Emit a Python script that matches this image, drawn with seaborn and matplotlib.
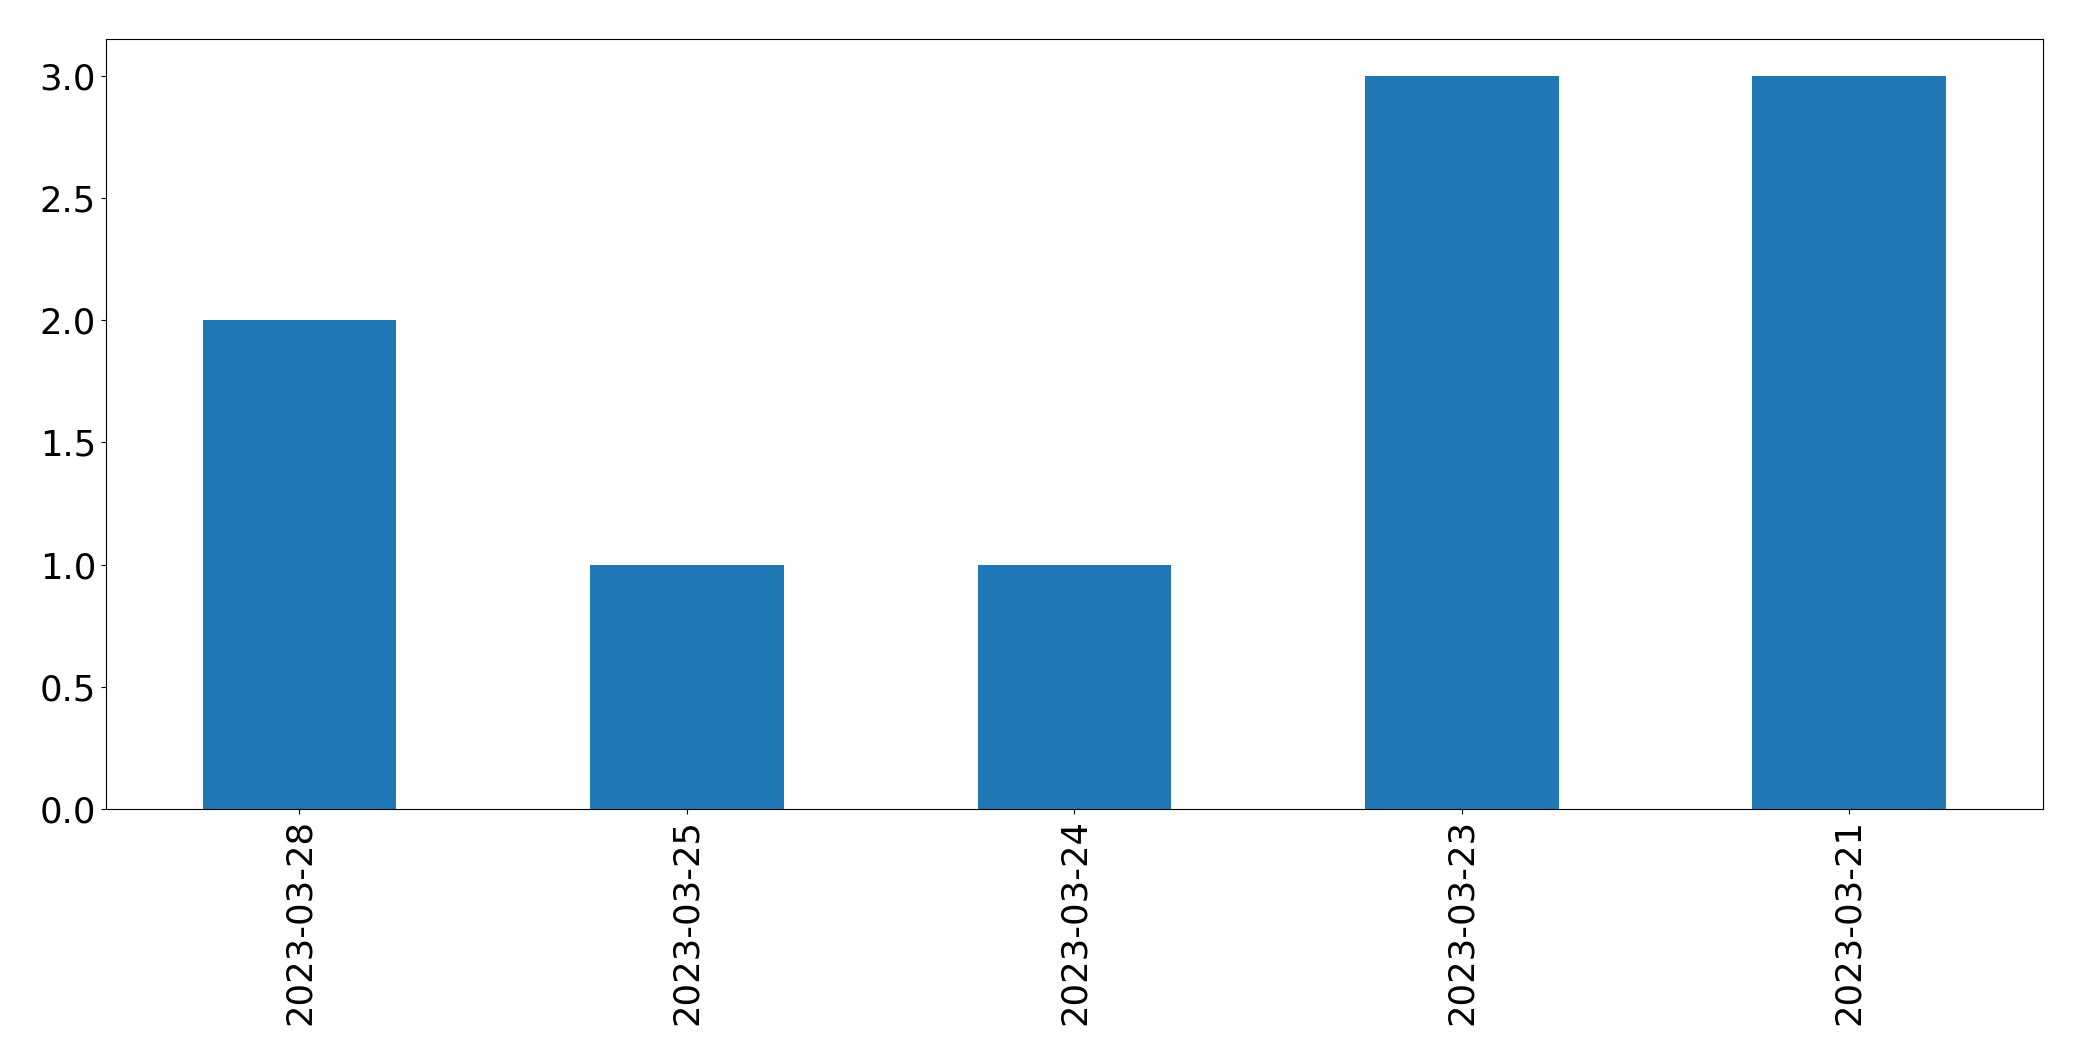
import numpy as np
import pandas as pd
import matplotlib
matplotlib.use("Agg")
import matplotlib.pyplot as plt
import seaborn as sns

# Données
dates = ["2023-03-28", "2023-03-25", "2023-03-24", "2023-03-23", "2023-03-21"]
counts = [2, 1, 1, 3, 3]

df = pd.DataFrame({"date": dates, "count": counts})

fig, ax = plt.subplots(figsize=(20.82, 10.61), dpi=100)
fig.subplots_adjust(left=0.0508, right=0.9813, top=0.963, bottom=0.2375)

sns.barplot(
    data=df, x="date", y="count", order=dates,
    color="#1f77b4", saturation=1, width=0.5, linewidth=0, ax=ax,
)

ax.set_xlabel("")
ax.set_ylabel("")
ax.set_xlim(-0.5, len(dates) - 0.5)
ax.set_ylim(0, 3.15)
ax.set_yticks(np.arange(0, 3.01, 0.5))
ax.tick_params(axis="both", labelsize=25.5)
ax.tick_params(axis="x", labelrotation=90)

fig.savefig("out.png", dpi=100)
